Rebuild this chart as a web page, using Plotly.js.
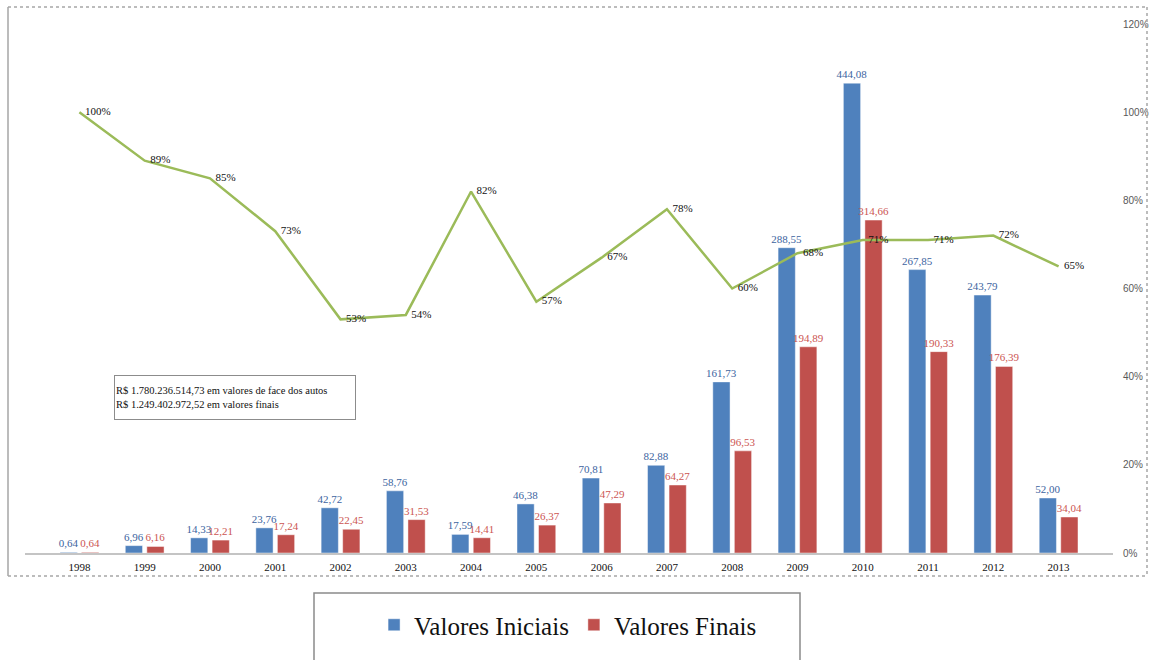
<!DOCTYPE html>
<html>
<head>
<meta charset="utf-8">
<script src="https://cdn.plot.ly/plotly-3.0.1.min.js"></script>
<style>
  html, body { margin: 0; padding: 0; background: #ffffff; }
  #chart { width: 1151px; height: 660px; }
</style>
</head>
<body>
<div id="chart"></div>
<script>
// Valores por ano (em milhões de R$) e percentual final/inicial
var anos = ['1998', '1999', '2000', '2001', '2002', '2003', '2004', '2005',
            '2006', '2007', '2008', '2009', '2010', '2011', '2012', '2013'];
var valoresIniciais = [0.64, 6.96, 14.33, 23.76, 42.72, 58.76, 17.59, 46.38,
                       70.81, 82.88, 161.73, 288.55, 444.08, 267.85, 243.79, 52.00];
var valoresFinais = [0.64, 6.16, 12.21, 17.24, 22.45, 31.53, 14.41, 26.37,
                     47.29, 64.27, 96.53, 194.89, 314.66, 190.33, 176.39, 34.04];
var percentual = [100, 89, 85, 73, 53, 54, 82, 57, 67, 78, 60, 68, 71, 71, 72, 65];
var ticksPercentual = [0, 20, 40, 60, 80, 100, 120];
var totais = [
  'R$ 1.780.236.514,73 em valores de face dos autos',
  'R$ 1.249.402.972,52 em valores finais'
];

var serif = '"Liberation Serif", "DejaVu Serif", serif';
var sans = '"Liberation Sans", Arial, sans-serif';

var traceIniciais = {
  type: 'bar',
  name: 'Valores Iniciais',
  x: anos,
  y: valoresIniciais,
  marker: { color: '#4f81bd', line: { color: 'rgba(255,255,255,0.45)', width: 1 } },
  texttemplate: '%{y:.2f}',
  textposition: 'outside',
  constraintext: 'none',
  cliponaxis: false,
  textfont: { family: serif, size: 11, color: '#3c64a0' },
  hoverinfo: 'skip'
};

var traceFinais = {
  type: 'bar',
  name: 'Valores Finais',
  x: anos,
  y: valoresFinais,
  marker: { color: '#c0504d', line: { color: 'rgba(255,255,255,0.45)', width: 1 } },
  texttemplate: '%{y:.2f}',
  textposition: 'outside',
  constraintext: 'none',
  cliponaxis: false,
  textfont: { family: serif, size: 11, color: '#cc5552' },
  hoverinfo: 'skip'
};

var tracePercentual = {
  type: 'scatter',
  mode: 'lines+text',
  name: 'Percentual',
  x: anos,
  y: percentual,
  yaxis: 'y2',
  line: { color: '#9bbb59', width: 2.5 },
  text: percentual.map(function (v) { return '\u2002' + v + '%'; }),
  textposition: 'middle right',
  textfont: { family: serif, size: 11, color: '#111111' },
  cliponaxis: false,
  showlegend: false,
  hoverinfo: 'skip'
};

// Coordenadas de papel para molduras fora da área de plotagem
var plotL = 25, plotR = 1113, plotT = 24, plotB = 553;
function px(x) { return (x - plotL) / (plotR - plotL); }
function py(y) { return (plotB - y) / (plotB - plotT); }

var borda = { color: '#a6a6a6', width: 1.5, dash: 'dot' };

var layout = {
  width: 1151,
  height: 660,
  margin: { l: plotL, r: 1151 - plotR, t: plotT, b: 660 - plotB },
  paper_bgcolor: '#ffffff',
  plot_bgcolor: '#ffffff',
  font: { family: serif, color: '#111111' },
  separators: ',.',
  barmode: 'group',
  bargap: 0.34,
  bargroupgap: 0.2,
  showlegend: true,
  legend: {
    orientation: 'h',
    xref: 'container', yref: 'container',
    x: 0.325, xanchor: 'left',
    y: 0.053, yanchor: 'middle',
    font: { family: serif, size: 25, color: '#111111' },
    bgcolor: 'rgba(0,0,0,0)',
    borderwidth: 0
  },
  xaxis: {
    type: 'category',
    showgrid: false,
    zeroline: false,
    showline: true,
    linecolor: '#c4c4c4',
    linewidth: 2,
    ticks: '',
    ticklabelstandoff: 3,
    tickfont: { family: serif, size: 11, color: '#111111' },
    fixedrange: true
  },
  yaxis: {
    range: [0, 500],
    visible: false,
    showgrid: false,
    zeroline: false,
    fixedrange: true
  },
  yaxis2: {
    overlaying: 'y',
    side: 'right',
    range: [0, 120],
    tickmode: 'array',
    tickvals: ticksPercentual,
    ticktext: ticksPercentual.map(function (v) { return v + '%'; }),
    showgrid: false,
    zeroline: false,
    showline: false,
    ticks: '',
    ticklabelstandoff: 9,
    tickfont: { family: sans, size: 10, color: '#595959' },
    fixedrange: true
  },
  annotations: [{
    xref: 'paper', yref: 'paper',
    x: px(114), xanchor: 'left',
    y: py(375), yanchor: 'top',
    width: 238, height: 41,
    align: 'left', valign: 'middle',
    text: totais.join('<br>'),
    showarrow: false,
    font: { family: serif, size: 10.5, color: '#111111' },
    bordercolor: '#8c8c8c', borderwidth: 1, borderpad: 1,
    bgcolor: '#ffffff'
  }],
  shapes: [
    // moldura do gráfico
    { type: 'line', xref: 'paper', yref: 'paper', x0: px(8), x1: px(8), y0: py(7), y1: py(576),
      line: { color: '#a6a6a6', width: 1.5 } },
    { type: 'line', xref: 'paper', yref: 'paper', x0: px(8), x1: px(1147), y0: py(7), y1: py(7), line: borda },
    { type: 'line', xref: 'paper', yref: 'paper', x0: px(1147), x1: px(1147), y0: py(7), y1: py(576), line: borda },
    { type: 'line', xref: 'paper', yref: 'paper', x0: px(8), x1: px(1147), y0: py(576), y1: py(576), line: borda },
    // caixa da legenda
    { type: 'rect', xref: 'paper', yref: 'paper', x0: px(314), x1: px(800), y0: py(593), y1: py(675),
      line: { color: '#8a8a8a', width: 1.5 }, fillcolor: 'rgba(0,0,0,0)' }
  ]
};

Plotly.newPlot('chart', [traceIniciais, traceFinais, tracePercentual], layout,
  { staticPlot: true, displayModeBar: false });
</script>
</body>
</html>
